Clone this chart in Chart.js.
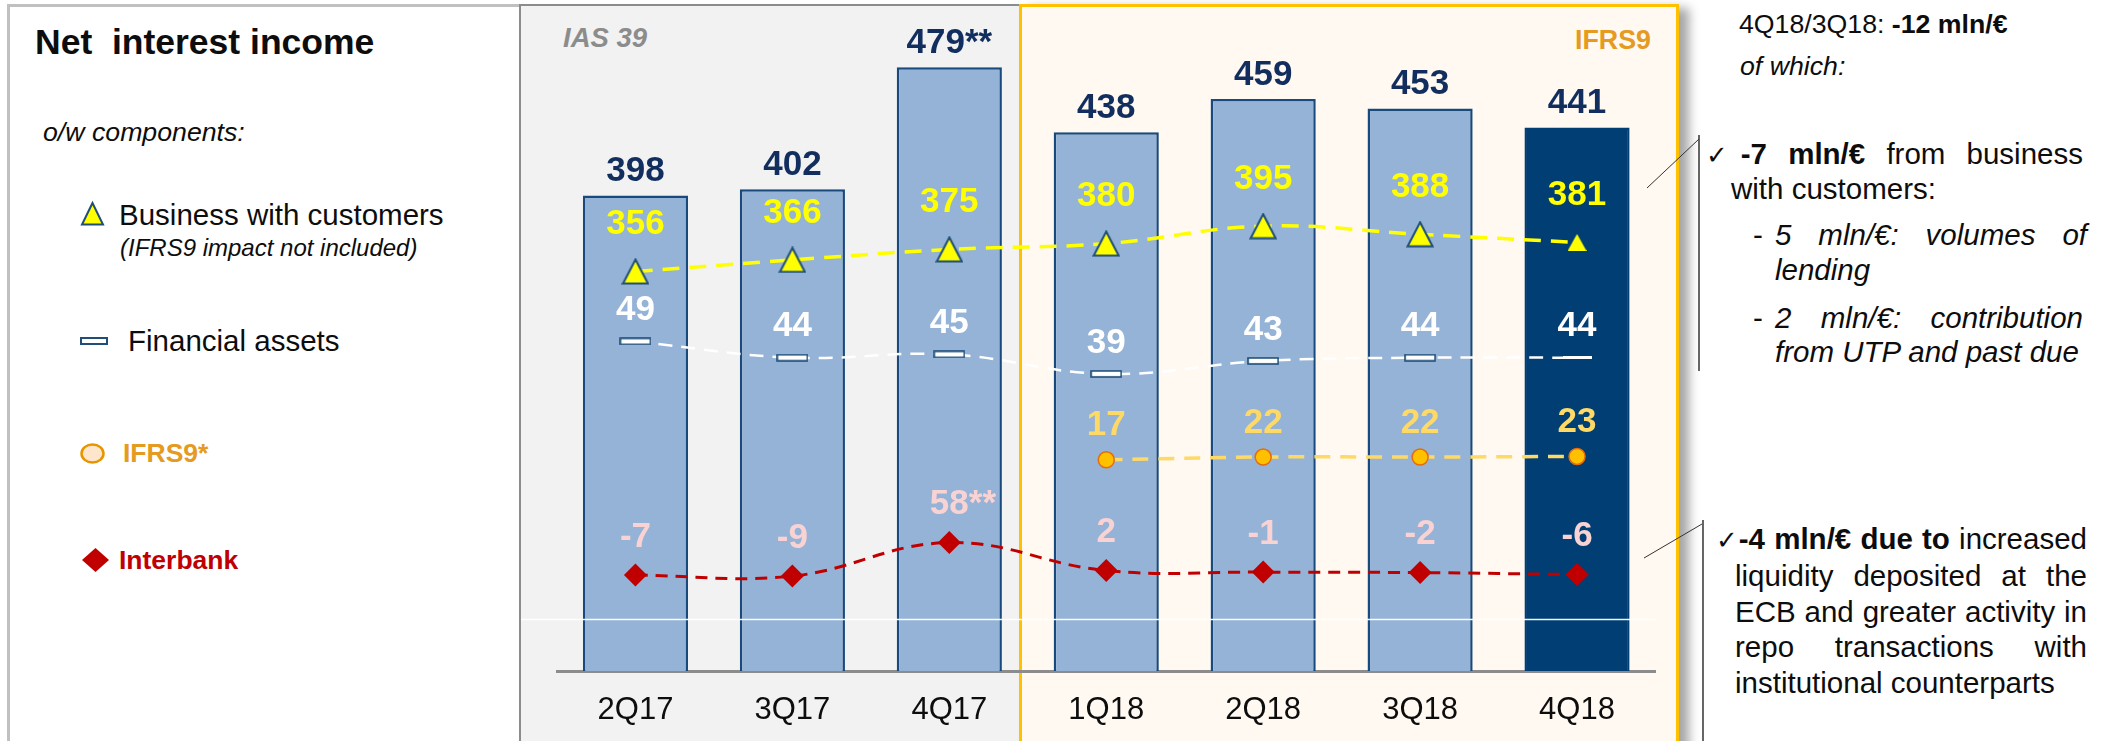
<!DOCTYPE html>
<html>
<head>
<meta charset="utf-8">
<script src="https://cdn.jsdelivr.net/npm/chart.js"></script>
<style>
  html, body { margin: 0; padding: 0; background: #fff; }
  body { width: 2110px; height: 741px; position: relative; overflow: hidden;
         font-family: "Liberation Sans", Arial, sans-serif; color: #0d0d0d; }
  .abs { position: absolute; white-space: nowrap; line-height: 40px; }
  .panel-left { position: absolute; left: 7px; top: 4px; width: 520px; height: 760px;
                border-left: 3px solid #c0c0c0; border-top: 3px solid #c0c0c0; }
  .panel-ias { position: absolute; left: 519px; top: 4px; width: 500px; height: 760px;
               background: #f2f2f2; border-left: 2px solid #8c8c8c; border-top: 2px solid #8c8c8c; }
  .panel-ifrs { position: absolute; left: 1019px; top: 4px; width: 654px; height: 780px;
                background: #fff9f1; border: 3px solid #ffc000;
                box-shadow: 10px 4px 10px rgba(0,0,0,0.35); }
  .just { text-align: justify; text-align-last: justify; }
  .chk { font-family: "DejaVu Sans", sans-serif; font-size: 26px; }
  #chart { position: absolute; left: 0; top: 0; }
  svg { position: absolute; left: 0; top: 0; }
</style>
</head>
<body>
<div class="panel-left"></div>
<div class="panel-ias"></div>
<div class="panel-ifrs"></div>

<!-- left legend -->
<div class="abs" style="left:35px; top:22px; font-size:35.5px; font-weight:bold; white-space:pre;">Net  interest income</div>
<div class="abs" style="left:43px; top:112px; font-size:26.7px; font-style:italic;">o/w components:</div>
<div class="abs" style="left:119px; top:195px; font-size:29.5px;">Business with customers</div>
<div class="abs" style="left:120px; top:228px; font-size:24px; font-style:italic;">(IFRS9 impact not included)</div>
<div class="abs" style="left:128px; top:321px; font-size:29.5px;">Financial assets</div>
<div class="abs" style="left:123px; top:433px; font-size:26.5px; font-weight:bold; color:#e59a21;">IFRS9*</div>
<div class="abs" style="left:119px; top:540px; font-size:26.5px; font-weight:bold; color:#c00000;">Interbank</div>

<!-- panel titles -->
<div class="abs" style="left:563px; top:18px; font-size:27.5px; font-weight:bold; font-style:italic; color:#8c8c8c;">IAS 39</div>
<div class="abs" style="left:1575px; top:20px; font-size:26.8px; font-weight:bold; color:#e59a21;">IFRS9</div>

<!-- right comments -->
<div class="abs" style="left:1739px; top:4px; font-size:26.7px;">4Q18/3Q18: <b>-12 mln/€</b></div>
<div class="abs" style="left:1740px; top:46px; font-size:26.7px; font-style:italic;">of which:</div>

<div class="abs just" style="left:1706px; top:134px; width:377px; font-size:29.5px;"><span class="chk">✓</span><b>-7 mln/€</b> from business</div>
<div class="abs" style="left:1731px; top:169px; font-size:29.5px;">with customers:</div>
<div class="abs" style="left:1753px; top:215px; font-size:29.5px;">-</div>
<div class="abs just" style="left:1775px; top:215px; width:312px; font-size:29.5px; font-style:italic;">5 mln/€: volumes of</div>
<div class="abs" style="left:1775px; top:250px; font-size:29.5px; font-style:italic;">lending</div>
<div class="abs" style="left:1753px; top:298px; font-size:29.5px;">-</div>
<div class="abs just" style="left:1775px; top:298px; width:308px; font-size:29.5px; font-style:italic;">2 mln/€: contribution</div>
<div class="abs" style="left:1775px; top:332px; font-size:29.5px; font-style:italic;">from UTP and past due</div>

<div class="abs just" style="left:1716px; top:519px; width:371px; font-size:29.5px;"><span class="chk">✓</span><b>-4 mln/€ due to</b> increased</div>
<div class="abs just" style="left:1735px; top:556px; width:352px; font-size:29.5px;">liquidity deposited at the</div>
<div class="abs just" style="left:1735px; top:592px; width:352px; font-size:29.5px;">ECB and greater activity in</div>
<div class="abs just" style="left:1735px; top:627px; width:352px; font-size:29.5px;">repo transactions with</div>
<div class="abs" style="left:1735px; top:663px; font-size:29.5px;">institutional counterparts</div>

<svg width="2110" height="741">
  <polygon points="92.5,203 82,224.5 103,224.5" fill="#ffff00" stroke="#1f4e79" stroke-width="2"/>
  <rect x="81" y="338" width="26" height="6" fill="#ffffff" stroke="#1f4e79" stroke-width="2"/>
  <ellipse cx="92.5" cy="453.5" rx="11" ry="9" fill="#fde6cc" stroke="#e69500" stroke-width="2.5"/>
  <polygon points="95.5,548 109,560 95.5,572 82,560" fill="#c00000"/>
  <line x1="1699" y1="135" x2="1699" y2="371" stroke="#333" stroke-width="1.5"/>
  <line x1="1647" y1="188" x2="1699" y2="139" stroke="#333" stroke-width="1"/>
  <line x1="1703" y1="520" x2="1703" y2="741" stroke="#333" stroke-width="1.5"/>
  <line x1="1644" y1="558" x2="1702" y2="524" stroke="#333" stroke-width="1"/>
</svg>

<canvas id="chart" width="2110" height="741"></canvas>

<script>
// quarters and values (mln/€)
const quarters = ["2Q17", "3Q17", "4Q17", "1Q18", "2Q18", "3Q18", "4Q18"];
const totalNII = [398, 402, 479, 438, 459, 453, 441];
const totalNotes = ["", "", "**", "", "", "", ""];
const businessCustomers = [356, 366, 375, 380, 395, 388, 381];
const financialAssets = [49, 44, 45, 39, 43, 44, 44];
const ifrs9 = [null, null, null, 17, 22, 22, 23];
const interbank = [-7, -9, 58, 2, -1, -2, -6];
const interbankNotes = ["", "", "**", "", "", "", ""];

const LABEL_FONT = "bold 35px 'Liberation Sans', Arial, sans-serif";
const lightBar = "#95b3d7";
const darkBar = "#003e74";
const last = quarters.length - 1;

// small canvases used as point markers
function markerCanvas(w, h, draw) {
  const c = document.createElement("canvas");
  c.width = w;
  c.height = h;
  draw(c.getContext("2d"), w, h);
  return c;
}

const triangleBig = markerCanvas(28, 27, (g, w, h) => {
  g.beginPath();
  g.moveTo(w / 2, 1.5);
  g.lineTo(w - 1.5, h - 1.5);
  g.lineTo(1.5, h - 1.5);
  g.closePath();
  g.fillStyle = "#ffff00";
  g.fill();
  g.lineWidth = 2;
  g.strokeStyle = "#1f4e79";
  g.stroke();
});
const triangleSmall = markerCanvas(19, 17, (g, w, h) => {
  g.beginPath();
  g.moveTo(w / 2, 0);
  g.lineTo(w, h);
  g.lineTo(0, h);
  g.closePath();
  g.fillStyle = "#ffff00";
  g.fill();
});
const rectMarker = markerCanvas(32, 8, (g) => {
  g.fillStyle = "#ffffff";
  g.fillRect(1, 1, 30, 6);
  g.lineWidth = 1.6;
  g.strokeStyle = "#1f4e79";
  g.strokeRect(1, 1, 30, 6);
});
const lineMarker = markerCanvas(29, 3, (g, w, h) => {
  g.fillStyle = "#ffffff";
  g.fillRect(0, 0, w, h);
});

// value labels above bars and points
const valueLabels = {
  id: "valueLabels",
  afterDatasetsDraw(chart) {
    const ctx = chart.ctx;
    // thin white line across the bars
    const yLine = chart.scales.y.getPixelForValue(130);
    ctx.save();
    ctx.strokeStyle = "rgba(255,255,255,0.95)";
    ctx.lineWidth = 1.5;
    ctx.beginPath();
    ctx.moveTo(521, yLine);
    ctx.lineTo(chart.chartArea.right, yLine);
    ctx.stroke();
    ctx.restore();

    chart.data.datasets.forEach((ds, di) => {
      if (!ds.labelColor) return;
      const meta = chart.getDatasetMeta(di);
      meta.data.forEach((el, i) => {
        const v = ds.data[i];
        if (v === null || v === undefined) return;
        const num = String(v);
        const note = ds.labelNotes ? ds.labelNotes[i] : "";
        const y = el.y - ds.labelOffset;
        ctx.save();
        ctx.font = LABEL_FONT;
        ctx.fillStyle = ds.labelColor;
        ctx.textBaseline = "middle";
        if (ds.noteHangs && note) {
          ctx.textAlign = "center";
          ctx.fillText(num, el.x, y);
          ctx.textAlign = "left";
          ctx.fillText(note, el.x + ctx.measureText(num).width / 2, y);
        } else {
          ctx.textAlign = "center";
          ctx.fillText(num + note, el.x, y);
        }
        ctx.restore();
      });
    });
  },
};

new Chart(document.getElementById("chart"), {
  type: "bar",
  data: {
    labels: quarters,
    datasets: [
      {
        type: "line",
        label: "Business with customers",
        data: businessCustomers,
        yAxisID: "yBiz",
        order: 1,
        borderColor: "#ffff00",
        borderWidth: 3.5,
        borderDash: [17, 10],
        tension: 0.4,
        pointStyle: businessCustomers.map((v, i) => (i === last ? triangleSmall : triangleBig)),
        pointRadius: 6,
        labelColor: "#ffff00",
        labelOffset: 47,
      },
      {
        type: "line",
        label: "Financial assets",
        data: financialAssets,
        yAxisID: "yFin",
        order: 2,
        borderColor: "#ffffff",
        borderWidth: 2.5,
        borderDash: [14, 9],
        tension: 0.4,
        pointStyle: financialAssets.map((v, i) => (i === last ? lineMarker : rectMarker)),
        pointRadius: 6,
        labelColor: "#ffffff",
        labelOffset: 31,
      },
      {
        type: "line",
        label: "IFRS9*",
        data: ifrs9,
        yAxisID: "yIfrs",
        order: 3,
        borderColor: "#ffd966",
        borderWidth: 3.5,
        borderDash: [16, 10],
        tension: 0.4,
        pointStyle: "circle",
        pointRadius: 8,
        pointBackgroundColor: "#ffc000",
        pointBorderColor: "#e46c0a",
        pointBorderWidth: 1.5,
        labelColor: "#ffd966",
        labelOffset: 34,
      },
      {
        type: "line",
        label: "Interbank",
        data: interbank,
        yAxisID: "yIb",
        order: 4,
        borderColor: "#c00000",
        borderWidth: 3,
        borderDash: [12, 8],
        tension: 0.4,
        pointStyle: "rectRot",
        pointRadius: 11.5,
        pointBackgroundColor: "#c00000",
        pointBorderWidth: 0,
        labelColor: "#f9d3d3",
        labelOffset: 38,
        labelNotes: interbankNotes,
        noteHangs: true,
      },
      {
        label: "Net interest income",
        data: totalNII,
        yAxisID: "y",
        order: 10,
        backgroundColor: totalNII.map((v, i) => (i === last ? darkBar : lightBar)),
        borderColor: totalNII.map((v, i) => (i === last ? darkBar : "#184a7d")),
        borderWidth: 2.5,
        barPercentage: 0.67,
        categoryPercentage: 1,
        labelColor: "#112e5e",
        labelOffset: 24,
        labelNotes: totalNotes,
      },
    ],
  },
  options: {
    responsive: false,
    animation: false,
    events: [],
    layout: { autoPadding: false, padding: { left: 557, right: 454.5, top: 5, bottom: 0 } },
    plugins: { legend: { display: false }, tooltip: { enabled: false } },
    scales: {
      x: {
        grid: { display: false, drawTicks: false },
        border: { display: true, color: "#8c8c8c", width: 3 },
        ticks: {
          color: "#0d0d0d",
          padding: 21,
          font: { family: "'Liberation Sans', Arial, sans-serif", size: 31 },
        },
        afterFit: (scale) => { scale.height = 70; },
      },
      y: { display: false, min: 97.4, max: 518.4 },
      yBiz: { display: false, min: 12.8, max: 585 },
      yFin: { display: false, min: -52.4, max: 152.5 },
      yIfrs: { display: false, min: -360.1, max: 829.1 },
      yIb: { display: false, min: -198.8, max: 1133.2 },
    },
  },
  plugins: [valueLabels],
});
</script>
</body>
</html>
